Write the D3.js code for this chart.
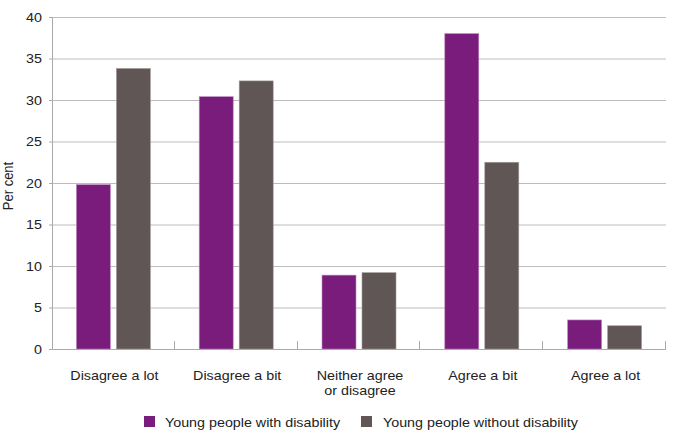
<!DOCTYPE html>
<html>
<head>
<meta charset="utf-8">
<script src="https://cdn.jsdelivr.net/npm/d3@7"></script>
<style>
  html, body { margin: 0; padding: 0; background: #fff; }
  svg { display: block; }
  text { font-family: "Liberation Sans", Arial, sans-serif; fill: #222; }
</style>
</head>
<body>
<svg id="chart" width="675" height="434"></svg>
<script>
const categories = [
  ["Disagree a lot"],
  ["Disagree a bit"],
  ["Neither agree", "or disagree"],
  ["Agree a bit"],
  ["Agree a lot"]
];
const seriesNames = ["Young people with disability", "Young people without disability"];
const withDisability = [19.8, 30.4, 8.9, 38.0, 3.5];
const withoutDisability = [33.8, 32.3, 9.2, 22.5, 2.8];
const yTicks = [0, 5, 10, 15, 20, 25, 30, 35, 40];
const colors = ["#7a1c7c", "#5f5655"];

const SX = 1.1; // horizontal text stretch seen in the reference
const svg = d3.select("#chart");
const margin = { left: 52, right: 9, top: 17, bottom: 85 };
const W = 675, H = 434;
const x0 = d3.scaleBand().domain(d3.range(categories.length))
  .range([margin.left, W - margin.right]).paddingInner(0).paddingOuter(0);
const y = d3.scaleLinear().domain([0, 40]).range([H - margin.bottom, margin.top]);

// gridlines
svg.append("g").selectAll("line").data(yTicks.filter(d => d > 0)).join("line")
  .attr("x1", margin.left).attr("x2", W - margin.right)
  .attr("y1", d => y(d) + 0.5).attr("y2", d => y(d) + 0.5)
  .attr("stroke", "#bcbcbc").attr("stroke-width", 1);

// small y ticks
svg.append("g").selectAll("line").data(yTicks).join("line")
  .attr("x1", margin.left - 3).attr("x2", margin.left)
  .attr("y1", d => y(d) + 0.5).attr("y2", d => y(d) + 0.5)
  .attr("stroke", "#aaaaaa");

// y tick labels
svg.append("g").selectAll("text").data(yTicks).join("text")
  .attr("transform", d => `translate(42, ${y(d)}) scale(${SX},1)`)
  .attr("dy", "0.35em")
  .attr("text-anchor", "end").attr("font-size", 13).text(d => d);

// y axis title
svg.append("text")
  .attr("transform", `translate(13, 186) rotate(-90) scale(1,${SX})`)
  .attr("text-anchor", "middle").attr("font-size", 13).text("Per cent");

// bars
const bw = 34, gap = 6;
const series = [withDisability, withoutDisability];
series.forEach((vals, si) => {
  svg.append("g").selectAll("rect").data(vals).join("rect")
    .attr("x", (d, i) => x0(i) + x0.bandwidth() / 2 - (bw + gap / 2) + si * (bw + gap))
    .attr("width", bw)
    .attr("y", d => y(d))
    .attr("height", d => y(0) - y(d))
    .attr("fill", colors[si])
    .attr("stroke", si === 0 ? "#b98bbb" : "#a39c9b")
    .attr("stroke-width", 0.6);
});

// axes lines
svg.append("line").attr("x1", margin.left + 0.5).attr("x2", margin.left + 0.5)
  .attr("y1", y(40)).attr("y2", y(0)).attr("stroke", "#aaaaaa");
svg.append("line").attr("x1", margin.left).attr("x2", W - margin.right)
  .attr("y1", y(0) + 0.5).attr("y2", y(0) + 0.5).attr("stroke", "#aaaaaa");

// category separator ticks
svg.append("g").selectAll("line").data(d3.range(1, categories.length + 1)).join("line")
  .attr("x1", i => Math.round(x0(0) + i * x0.step()) - 0.5)
  .attr("x2", i => Math.round(x0(0) + i * x0.step()) - 0.5)
  .attr("y1", y(0) - 8).attr("y2", y(0))
  .attr("stroke", "#aaaaaa");

// category labels
const cl = svg.append("g").selectAll("text").data(categories).join("text")
  .attr("transform", (d, i) => `translate(${x0(i) + x0.bandwidth() / 2 + 1}, 380) scale(${SX},1)`)
  .attr("text-anchor", "middle").attr("font-size", 13);
cl.selectAll("tspan").data(d => d).join("tspan")
  .attr("x", 0)
  .attr("dy", (d, j) => j === 0 ? 0 : 15).text(d => d);

// legend
const legendX = [144, 361];
const lg = svg.append("g").selectAll("g").data(seriesNames).join("g")
  .attr("transform", (d, i) => `translate(${legendX[i]}, 416)`);
lg.append("rect").attr("width", 11).attr("height", 11).attr("fill", (d, i) => colors[i]);
lg.append("text")
  .attr("transform", (d, i) => `translate(${i === 0 ? 21 : 22}, 6) scale(${SX},1)`)
  .attr("dy", "0.35em")
  .attr("font-size", 13).text(d => d);
</script>
</body>
</html>
